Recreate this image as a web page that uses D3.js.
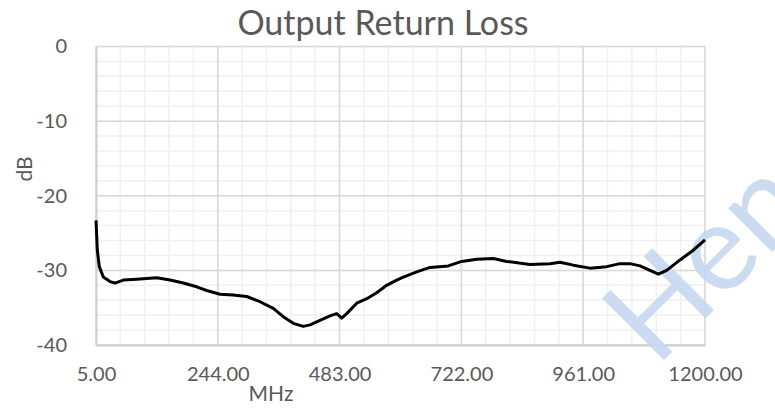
<!DOCTYPE html>
<html>
<head>
<meta charset="utf-8">
<script src="https://cdn.jsdelivr.net/npm/d3@7"></script>
<style>
    body { margin: 0; background: #fff; }
    text { font-family: Lato, "Open Sans", sans-serif; fill: #595959; }
</style>
</head>
<body>
<div id="chart"></div>
<script>
const freqs = [5, 7.6, 11.5, 19.3, 32.5, 42.3, 58.6, 84.9, 104.5, 124.1, 150.2, 176.3, 202.6, 222.2,
    248.3, 273.8, 300.7, 326.8, 352.9, 372.5, 392.1, 411.8, 424.9, 444.5, 464.2, 477.3, 487.1, 496.9,
    516.6, 536.2, 555.8, 575.4, 595.0, 608.0, 634.3, 660.4, 696.3, 722.6, 752.0, 784.6, 810.9, 856.6,
    895.8, 915.5, 941.6, 974.3, 1007.1, 1033.2, 1052.8, 1072.4, 1092.1, 1108.4, 1124.8, 1151.0, 1177.1, 1200];
const dbValues = [-23.3, -27.3, -29.5, -30.9, -31.5, -31.7, -31.3, -31.2, -31.1, -31.0, -31.3, -31.7, -32.2, -32.7,
    -33.2, -33.3, -33.5, -34.2, -35.1, -36.2, -37.1, -37.5, -37.3, -36.7, -36.1, -35.8, -36.4, -35.8,
    -34.4, -33.8, -33.0, -32.0, -31.3, -30.9, -30.2, -29.6, -29.4, -28.8, -28.5, -28.4, -28.8, -29.2,
    -29.1, -28.9, -29.3, -29.7, -29.5, -29.1, -29.1, -29.4, -30.0, -30.5, -30.0, -28.6, -27.3, -25.9];
const xTicks = [5, 244, 483, 722, 961, 1200];
const yTicks = [0, -10, -20, -30, -40];

const width = 775;
const height = 409;
const margin = { top: 46.5, right: 70, bottom: 64, left: 96 };

const svg = d3.select("#chart")
    .append("svg")
    .attr("width", width)
    .attr("height", height);

const xScale = d3.scaleLinear()
    .domain([5, 1200])
    .range([margin.left, width - margin.right]);

const yScale = d3.scaleLinear()
    .domain([-40, 0])
    .range([height - margin.bottom, margin.top]);

// minor grid: 5 steps between major ticks
const xMinor = d3.range(0, 26).map(i => 5 + i * 239 / 5);
const yMinor = d3.range(-40, 1, 2);

const grid = svg.append("g");
grid.selectAll(".xminor")
    .data(xMinor)
    .enter()
    .append("line")
    .attr("x1", d => xScale(d)).attr("x2", d => xScale(d))
    .attr("y1", yScale(0)).attr("y2", yScale(-40))
    .attr("stroke", "#f0f0f0").attr("stroke-width", 1.5);
grid.selectAll(".yminor")
    .data(yMinor)
    .enter()
    .append("line")
    .attr("x1", xScale(5)).attr("x2", xScale(1200))
    .attr("y1", d => yScale(d)).attr("y2", d => yScale(d))
    .attr("stroke", "#f0f0f0").attr("stroke-width", 1.5);
grid.selectAll(".xmajor")
    .data(xTicks)
    .enter()
    .append("line")
    .attr("x1", d => xScale(d)).attr("x2", d => xScale(d))
    .attr("y1", yScale(0)).attr("y2", yScale(-40))
    .attr("stroke", "#d9d9d9").attr("stroke-width", 1.5);
grid.selectAll(".ymajor")
    .data(yTicks)
    .enter()
    .append("line")
    .attr("x1", xScale(5)).attr("x2", xScale(1200))
    .attr("y1", d => yScale(d)).attr("y2", d => yScale(d))
    .attr("stroke", "#d9d9d9").attr("stroke-width", 1.5);

// Axes
const xAxis = svg.append("g")
    .attr("transform", `translate(0,${yScale(-40)})`)
    .call(d3.axisBottom(xScale).tickValues(xTicks).tickSize(0).tickPadding(22).tickFormat(d => d.toFixed(2)));
xAxis.select(".domain").attr("stroke", "#cfcfcf").attr("stroke-width", 2);
xAxis.selectAll("text").style("font-size", "20px").attr("fill", "#595959");

const yAxis = svg.append("g")
    .attr("transform", `translate(${xScale(5)},0)`)
    .call(d3.axisLeft(yScale).tickValues(yTicks).tickSize(0).tickPadding(29).tickFormat(d => String(d)));
yAxis.select(".domain").attr("stroke", "#cfcfcf").attr("stroke-width", 2);
yAxis.selectAll("text").style("font-size", "20px").attr("fill", "#595959");

// Watermark
svg.append("text")
    .attr("transform", "translate(656,368) rotate(-45)")
    .style("font-size", "122px")
    .style("fill", "#c6d9f1")
    .attr("opacity", 0.9)
    .text("Hen");

// Curve
const line = d3.line()
    .x((d, i) => xScale(freqs[i]))
    .y(d => yScale(d));

svg.append("path")
    .datum(dbValues)
    .attr("d", line)
    .attr("fill", "none")
    .attr("stroke", "#000")
    .attr("stroke-width", 3)
    .attr("stroke-linejoin", "round");

// Titles
svg.append("text")
    .attr("x", 383)
    .attr("y", 35)
    .attr("text-anchor", "middle")
    .style("font-size", "34px")
    .text("Output Return Loss");

svg.append("text")
    .attr("x", 271)
    .attr("y", 401)
    .attr("text-anchor", "middle")
    .style("font-size", "21px")
    .text("MHz");

svg.append("text")
    .attr("transform", "translate(32,169) rotate(-90)")
    .attr("text-anchor", "middle")
    .style("font-size", "21px")
    .text("dB");
</script>
</body>
</html>
